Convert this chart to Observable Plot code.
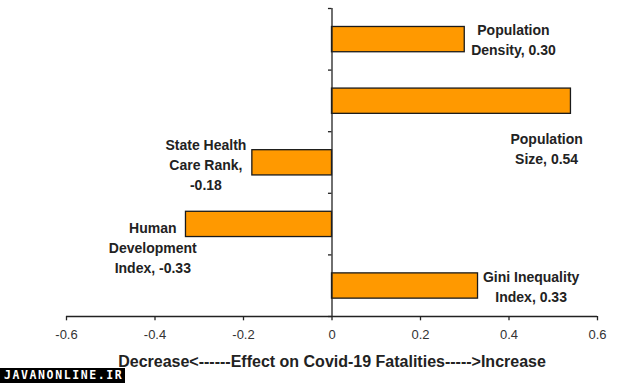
<!DOCTYPE html>
<html>
<head>
<meta charset="utf-8">
<script src="https://cdn.jsdelivr.net/npm/d3@7"></script>
<script src="https://cdn.jsdelivr.net/npm/@observablehq/plot@0.6"></script>
<style>
  html, body { margin: 0; padding: 0; background: #fff; }
  #wrap { position: relative; width: 639px; height: 383px; overflow: hidden; }
  #wm { position: absolute; left: 0; top: 368px; width: 125px; height: 15px; background: #000;
        color: #fff; font: bold 11.5px "DejaVu Sans Mono", monospace; letter-spacing: 1.6px;
        line-height: 15px; padding-left: 4px; box-sizing: border-box; white-space: nowrap; }
</style>
</head>
<body>
<div id="wrap"><div id="wm">JAVANONLINE.IR</div></div>
<script>
// Data
const categories = ["Population Density", "Population Size", "State Health Care Rank", "Human Development Index", "Gini Inequality Index"];
const effects = [0.30, 0.54, -0.18, -0.33, 0.33];
const labels = ["Population\nDensity, 0.30", "Population\nSize, 0.54", "State Health\nCare Rank,\n-0.18", "Human\nDevelopment\nIndex, -0.33", "Gini Inequality\nIndex, 0.33"];
const xTicks = [-0.6, -0.4, -0.2, 0, 0.2, 0.4, 0.6];
const xTitle = "Decrease<------Effect on Covid-19 Fatalities----->Increase";
// annotation placement (data units: x = effect, y = category slot)
const labelX = [0.41, 0.485, -0.285, -0.405, 0.45];
const labelY = [0.49, 2.25, 2.52, 3.86, 4.5];

const bars = categories.map((c, i) => ({category: c, effect: effects[i], slot: i}));
const notes = labels.map((t, i) => ({text: t, x: labelX[i], y: labelY[i]}));
const slots = d3.range(categories.length + 1);

const chart = Plot.plot({
  width: 639,
  height: 383,
  marginTop: 8,
  marginBottom: 67,
  marginLeft: 66,
  marginRight: 42,
  style: {fontFamily: "'Liberation Sans', Arial, sans-serif", background: "#fff"},
  x: {domain: [-0.6, 0.6]},
  y: {domain: [categories.length, 0], axis: null},
  marks: [
    Plot.rectX(bars, {x1: 0, x2: "effect", y1: d => d.slot + 0.3, y2: d => d.slot + 0.71,
      fill: "#FF9900", stroke: "#1a1a1a", strokeWidth: 1.3}),
    Plot.ruleX([0], {y1: 0, y2: categories.length, stroke: "#222", strokeWidth: 1.3}),
    Plot.ruleY(slots, {x1: -0.008, x2: 0, stroke: "#222", strokeWidth: 1.3}),
    Plot.ruleY([categories.length], {x1: xTicks[0], x2: xTicks[xTicks.length - 1], stroke: "#222", strokeWidth: 1.3}),
    Plot.ruleX(xTicks, {y1: categories.length, y2: categories.length + 0.07, stroke: "#222", strokeWidth: 1.3}),
    Plot.axisX({ticks: xTicks, tickSize: 0, tickPadding: 13, fontSize: 13, fill: "#333",
      tickFormat: d => d === 0 ? "0" : d3.format(".1f")(d).replace("−", "-"), label: null}),
    Plot.text([xTitle], {frameAnchor: "bottom", dy: 45, lineAnchor: "middle", fontSize: 16, fontWeight: "bold", fill: "#222"}),
    Plot.text(notes, {x: "x", y: "y", text: "text", textAnchor: "middle", lineAnchor: "middle",
      lineHeight: 1.43, fontSize: 14, fontWeight: "bold", fill: "#222"})
  ]
});
document.getElementById("wrap").prepend(chart);
</script>
</body>
</html>
